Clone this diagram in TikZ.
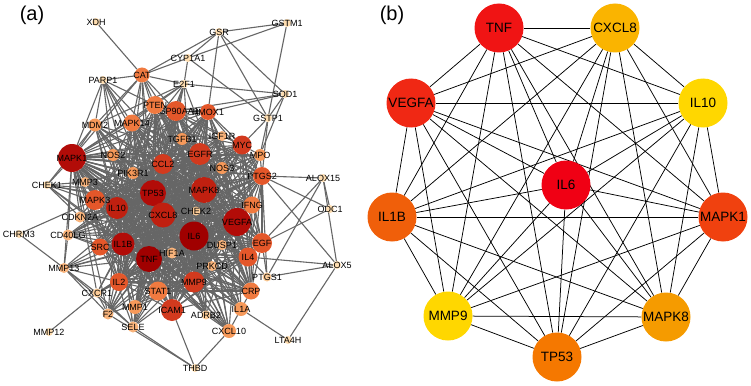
\documentclass[tikz,border=0pt]{standalone}
\usepackage{fontspec}
\setmainfont{Liberation Sans}
\usetikzlibrary{backgrounds}

\definecolor{deg1}{RGB}{160,0,0}
\definecolor{deg2}{RGB}{178,12,8}
\definecolor{deg3}{RGB}{192,32,16}
\definecolor{deg4}{RGB}{210,58,30}
\definecolor{deg5}{RGB}{228,87,42}
\definecolor{deg6}{RGB}{240,122,64}
\definecolor{deg7}{RGB}{246,153,90}
\definecolor{deg8}{RGB}{249,180,124}
\definecolor{deg9}{RGB}{252,204,152}
\definecolor{deg10}{RGB}{254,221,176}
\definecolor{linkgray}{RGB}{102,102,102}
% top ten hub colours
\definecolor{hubred}{RGB}{240,20,20}
\definecolor{hubcrimson}{RGB}{240,0,20}
\definecolor{hubscarlet}{RGB}{240,40,20}
\definecolor{hubvermilion}{RGB}{240,65,15}
\definecolor{hubpumpkin}{RGB}{240,95,10}
\definecolor{huborange}{RGB}{245,120,0}
\definecolor{hubamber}{RGB}{245,155,0}
\definecolor{hubgold}{RGB}{250,180,0}
\definecolor{hubyellow}{RGB}{255,215,0}

\begin{document}
\begin{tikzpicture}[x=1pt,y=-1pt,
    gene/.style 2 args={circle,fill=#1,minimum size=#2pt,inner sep=0pt},
    link/.style={linkgray,line width=1.1pt},
    hublink/.style={black,line width=0.75pt},
    every label/.style={font=\fontsize{9}{10}\selectfont,inner sep=0pt}]
\useasboundingbox (0,0) rectangle (751,385);

% panel labels
\node[font=\fontsize{20}{22}\selectfont] (labA) at (32,15) {(a)};
\node[font=\fontsize{20}{22}\selectfont] (labB) at (392,15) {(b)};

% network (a)
\node[gene={deg1}{29},label=center:IL6] (IL6) at (194,236) {};
\node[gene={deg1}{26},label=center:TNF] (TNF) at (149,259) {};
\node[gene={deg2}{28},label=center:VEGFA] (VEGFA) at (237,222) {};
\node[gene={deg2}{28},label=center:MAPK1] (MAPK1) at (72,158) {};
\node[gene={deg2}{26},label=center:TP53] (TP53) at (153,193) {};
\node[gene={deg2}{23},label=center:IL1B] (IL1B) at (123,244) {};
\node[gene={deg3}{26},label=center:MAPK8] (MAPK8) at (204,190) {};
\node[gene={deg3}{25},label=center:CXCL8] (CXCL8) at (163,215) {};
\node[gene={deg3}{22},label=center:IL10] (IL10) at (117,208) {};
\node[gene={deg4}{22},label=center:EGFR] (EGFR) at (200,154) {};
\node[gene={deg4}{20},label=center:CCL2] (CCL2) at (163,164) {};
\node[gene={deg4}{21},label=center:MMP9] (MMP9) at (194,282) {};
\node[gene={deg4}{22},label=center:ICAM1] (ICAM1) at (172,310) {};
\node[gene={deg4}{19},label=center:MYC] (MYC) at (242,145) {};
\node[gene={deg5}{19},label=center:IL4] (IL4) at (248,257) {};
\node[gene={deg5}{20},label=center:EGF] (EGF) at (262,243) {};
\node[gene={deg5}{18},label=center:PTGS2] (PTGS2) at (262,176) {};
\node[gene={deg5}{20},label=center:HSP90AA1] (HSP90AA1) at (176,111) {};
\node[gene={deg5}{16},label=center:HMOX1] (HMOX1) at (208,112) {};
\node[gene={deg5}{20},label=center:MAPK3] (MAPK3) at (95,200) {};
\node[gene={deg5}{17},label=center:SRC] (SRC) at (100,247) {};
\node[gene={deg5}{18},label=center:IL2] (IL2) at (119,282) {};
\node[gene={deg6}{19},label=center:STAT1] (STAT1) at (158,291) {};
\node[gene={deg6}{18},label=center:PTEN] (PTEN) at (155,105) {};
\node[gene={deg6}{17},label=center:MAPK14] (MAPK14) at (132,123) {};
\node[gene={deg6}{15},label=center:CAT] (CAT) at (142,75) {};
\node[gene={deg6}{17},label=center:IFNG] (IFNG) at (252,205) {};
\node[gene={deg6}{17},label=center:CRP] (CRP) at (251,291) {};
\node[gene={deg7}{14},label=center:MMP1] (MMP1) at (135,307) {};
\node[gene={deg7}{14},label=center:IL1A] (IL1A) at (241,309) {};
\node[gene={deg7}{14},label=center:CXCL10] (CXCL10) at (229,331) {};
\node[gene={deg7}{12},label=center:NOS2] (NOS2) at (113,155) {};
\node[gene={deg7}{13},label=center:MDM2] (MDM2) at (95,125) {};
\node[gene={deg7}{12},label=center:PIK3R1] (PIK3R1) at (133,173) {};
\node[gene={deg7}{12},label=center:TGFB1] (TGFB1) at (182,139) {};
\node[gene={deg7}{12},label=center:NOS3] (NOS3) at (222,168) {};
\node[gene={deg7}{12},label=center:MPO] (MPO) at (260,155) {};
\node[gene={deg8}{10},label=center:MMP3] (MMP3) at (85,182) {};
\node[gene={deg8}{11},label=center:CDKN2A] (CDKN2A) at (80,217) {};
\node[gene={deg8}{11},label=center:CD40LG] (CD40LG) at (68,235) {};
\node[gene={deg8}{10},label=center:MMP13] (MMP13) at (64,268) {};
\node[gene={deg8}{11},label=center:F2] (F2) at (108,314) {};
\node[gene={deg8}{11},label=center:SELE] (SELE) at (133,327) {};
\node[gene={deg8}{10},label=center:PRKCD] (PRKCD) at (212,266) {};
\node[gene={deg8}{11},label=center:HIF1A] (HIF1A) at (172,253) {};
\node[gene={deg8}{10},label=center:DUSP1] (DUSP1) at (222,245) {};
\node[gene={deg8}{10},label=center:IGF1R] (IGF1R) at (222,136) {};
\node[gene={deg9}{9},label=center:CHEK2] (CHEK2) at (196,211) {};
\node[gene={deg9}{9},label=center:ADRB2] (ADRB2) at (206,315) {};
\node[gene={deg9}{9},label=center:PTGS1] (PTGS1) at (267,277) {};
\node[gene={deg9}{9},label=center:CXCR1] (CXCR1) at (97,293) {};
\node[gene={deg10}{8},label=center:XDH] (XDH) at (96,22) {};
\node[gene={deg10}{8},label=center:PARP1] (PARP1) at (103,80) {};
\node[gene={deg10}{8},label=center:CYP1A1] (CYP1A1) at (188,58) {};
\node[gene={deg10}{8},label=center:GSR] (GSR) at (219,32) {};
\node[gene={deg10}{8},label=center:GSTM1] (GSTM1) at (287,23) {};
\node[gene={deg10}{8},label=center:E2F1] (E2F1) at (184,84) {};
\node[gene={deg10}{8},label=center:SOD1] (SOD1) at (285,94) {};
\node[gene={deg10}{8},label=center:GSTP1] (GSTP1) at (268,118) {};
\node[gene={deg10}{8},label=center:CHEK1] (CHEK1) at (47,185) {};
\node[gene={deg10}{8},label=center:CHRM3] (CHRM3) at (19,234) {};
\node[gene={deg10}{8},label=center:MMP12] (MMP12) at (49,332) {};
\node[gene={deg10}{8},label=center:ALOX15] (ALOX15) at (323,178) {};
\node[gene={deg10}{8},label=center:ODC1] (ODC1) at (330,209) {};
\node[gene={deg10}{8},label=center:ALOX5] (ALOX5) at (337,265) {};
\node[gene={deg10}{8},label=center:LTA4H] (LTA4H) at (288,340) {};
\node[gene={deg10}{8},label=center:THBD] (THBD) at (195,368) {};

% network (b)
\begin{scope}[every label/.style={font=\fontsize{13.5}{14}\selectfont,inner sep=0pt}]
\node[gene={hubred}{49},label=center:TNF] (bTNF) at (499,28) {};
\node[gene={hubgold}{49},label=center:CXCL8] (bCXCL8) at (615,28) {};
\node[gene={hubyellow}{49},label=center:IL10] (bIL10) at (703,103) {};
\node[gene={hubvermilion}{49},label=center:MAPK1] (bMAPK1) at (723,217) {};
\node[gene={hubamber}{49},label=center:MAPK8] (bMAPK8) at (666,317) {};
\node[gene={huborange}{49},label=center:TP53] (bTP53) at (557,357) {};
\node[gene={hubyellow}{49},label=center:MMP9] (bMMP9) at (448,316) {};
\node[gene={hubpumpkin}{49},label=center:IL1B] (bIL1B) at (392,217) {};
\node[gene={hubscarlet}{49},label=center:VEGFA] (bVEGFA) at (411,103) {};
\node[gene={hubcrimson}{49},label=center:IL6] (bIL6) at (566,185) {};
\end{scope}

% edges
\def\hubs{IL6,TNF,VEGFA,MAPK1,TP53,IL1B,MAPK8,CXCL8,IL10,EGFR,CCL2,MMP9,ICAM1,MYC,IL4,EGF,PTGS2,HSP90AA1,MAPK3,SRC,IL2,STAT1,PTEN,MAPK14,IFNG,CRP,HMOX1}
\def\tophubs{IL6,TNF,VEGFA,MAPK1,TP53,IL1B,MAPK8,CXCL8,IL10,EGFR,CCL2,MMP9}
\def\toptier{bTNF,bCXCL8,bIL10,bMAPK1,bMAPK8,bTP53,bMMP9,bIL1B,bVEGFA,bIL6}
\begin{pgfonlayer}{background}
\foreach \a [count=\i] in \hubs {
  \foreach \b [count=\j] in \hubs {
    \ifnum\j>\i \draw[link] (\a) -- (\b); \fi
  }
}
\foreach \a in {MDM2,NOS2,PIK3R1,TGFB1,IGF1R,NOS3,MPO,MMP3,CDKN2A,CD40LG,CHEK2,HIF1A,DUSP1,PRKCD,MMP1,ADRB2,IL1A,CXCL10,F2,SELE}
  \foreach \b in \tophubs
    \draw[link] (\a) -- (\b);
\foreach \a in {CAT,PARP1,CHEK1,MMP13,E2F1,CXCR1}
  \foreach \b in {IL6,TNF,TP53,MAPK1,IL1B,VEGFA}
    \draw[link] (\a) -- (\b);
\foreach \a/\b in {XDH/CAT,PARP1/CAT,CAT/E2F1,CAT/CYP1A1,CAT/GSR,CYP1A1/GSR,CYP1A1/GSTM1,
    GSR/GSTM1,GSR/HMOX1,GSR/GSTP1,GSR/SOD1,GSTM1/GSTP1,CYP1A1/GSTP1,CYP1A1/E2F1,
    E2F1/SOD1,HMOX1/SOD1,HSP90AA1/SOD1,SOD1/GSTP1,SOD1/MPO,GSTP1/MYC,GSTP1/MPO,
    GSTP1/PTGS2,E2F1/PTEN,E2F1/HSP90AA1,E2F1/MDM2,E2F1/CDKN2A,PARP1/MDM2,
    PARP1/MAPK14,PARP1/PTEN,CAT/MDM2,CAT/PTEN,CAT/HSP90AA1,CAT/MAPK14,CHEK1/MDM2,
    CHEK1/CHEK2,CHEK1/MMP3,CHEK1/CDKN2A,CHRM3/MAPK3,CHRM3/CXCR1,MMP12/CXCR1,
    MMP13/SRC,MMP13/CD40LG,MMP13/F2,MMP13/SELE,MMP13/IL2,CXCR1/IL2,CXCR1/F2,
    CXCR1/SELE,F2/THBD,SELE/THBD,ICAM1/THBD,CXCL10/THBD,LTA4H/IL1A,LTA4H/ALOX5,
    ALOX5/IL4,ALOX5/PTGS1,ALOX5/ALOX15,ALOX5/PTGS2,ALOX15/PTGS2,ALOX15/ODC1,
    ALOX15/EGF,ALOX15/PTGS1,ODC1/PTGS2,ODC1/EGF,PTGS1/IL4,PTGS1/PTGS2,PTGS1/EGF,
    MPO/PTGS2,MYC/MPO,IGF1R/MYC,CXCL10/IL1A,CRP/IL1A,ADRB2/CXCL10}
  \draw[link] (\a) -- (\b);
\foreach \a [count=\i] in \toptier {
  \foreach \b [count=\j] in \toptier {
    \ifnum\j>\i \draw[hublink] (\a) -- (\b); \fi
  }
}
\end{pgfonlayer}
\end{tikzpicture}
\end{document}
